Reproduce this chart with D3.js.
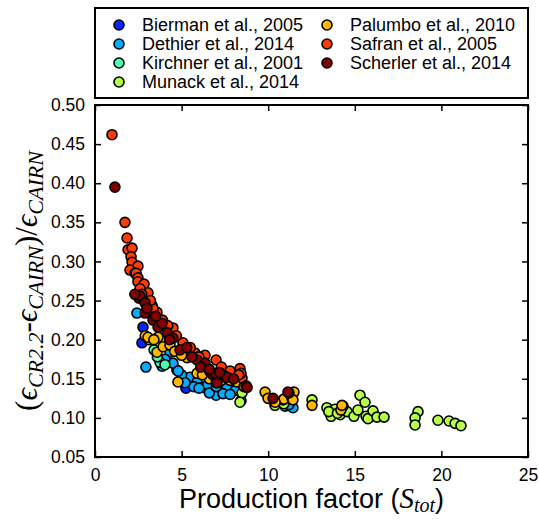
<!DOCTYPE html>
<html lang="en">
<head>
   <meta charset="UTF-8">
   <title>Production factor scatter</title>
   <script src="https://d3js.org/d3.v7.min.js"></script>
   <style>
      body { margin: 0; background: #fff; }
      svg { font-family: "Liberation Sans", Arial, sans-serif; }
      .tick-label { font-size: 17.5px; fill: #000; }
      .legend-label { font-size: 18px; fill: #000; }
      .math { font-family: "Liberation Serif", "DejaVu Serif", serif; font-style: italic; }
   </style>
</head>
<body>
   <div id="chart"></div>
   <script>
      // series names in legend order
      const studies = ['Bierman et al., 2005', 'Dethier et al., 2014', 'Kirchner et al., 2001',
         'Munack et al., 2014', 'Palumbo et al., 2010', 'Safran et al., 2005', 'Scherler et al., 2014'];

      // [production factor, relative difference]
      const bierman = [[2.77, 0.216], [2.71, 0.196], [4.73, 0.161], [5.25, 0.138]];
      const dethier = [[2.42, 0.234], [2.94, 0.165], [3.87, 0.166], [4.33, 0.184], [4.50, 0.170], [4.04, 0.175],
         [5.48, 0.152], [5.89, 0.146], [6.24, 0.139], [6.76, 0.133], [7.22, 0.136], [7.62, 0.139], [6.99, 0.129],
         [7.39, 0.131], [8.43, 0.122], [8.10, 0.135], [10.97, 0.115], [11.43, 0.113], [11.20, 0.117],
         [6.50, 0.142], [5.70, 0.140], [5.00, 0.155], [5.20, 0.145], [6.00, 0.138], [6.60, 0.132],
         [7.00, 0.140], [7.80, 0.130], [4.80, 0.160]];
      const kirchner = [[3.41, 0.187], [3.75, 0.171], [4.04, 0.168], [3.60, 0.178]];
      const munack = [[8.49, 0.132], [8.37, 0.120], [10.39, 0.116], [10.90, 0.118], [12.53, 0.123], [13.39, 0.113],
         [13.63, 0.102], [13.86, 0.111], [14.15, 0.104], [14.55, 0.108], [14.95, 0.102], [15.18, 0.110],
         [15.30, 0.129], [15.59, 0.120], [15.65, 0.102], [15.76, 0.099], [16.05, 0.109], [16.28, 0.101],
         [16.69, 0.101], [18.65, 0.108], [18.48, 0.100], [18.48, 0.091], [19.80, 0.097], [20.44, 0.096],
         [20.79, 0.093], [21.13, 0.090], [13.50, 0.108], [14.00, 0.106]];
      const palumbo = [[2.90, 0.205], [3.12, 0.200], [3.06, 0.203], [3.64, 0.203], [3.58, 0.184], [3.93, 0.191],
         [4.33, 0.193], [5.31, 0.177], [4.79, 0.146], [5.89, 0.157], [8.20, 0.146], [9.82, 0.133], [9.99, 0.125],
         [10.85, 0.123], [10.91, 0.124], [11.37, 0.125], [11.49, 0.133], [11.43, 0.123], [12.53, 0.116],
         [14.32, 0.115], [14.20, 0.110], [14.26, 0.116], [6.60, 0.150], [7.30, 0.148], [3.40, 0.200],
         [4.60, 0.185], [5.00, 0.180], [6.20, 0.155], [7.00, 0.145], [7.80, 0.148], [8.60, 0.140], [10.40, 0.120]];
      const safran = [[0.98, 0.462], [1.73, 0.350], [1.85, 0.330], [1.91, 0.315], [2.14, 0.317], [2.08, 0.306],
         [2.14, 0.299], [2.48, 0.294], [2.02, 0.289], [2.31, 0.285], [2.37, 0.285], [2.48, 0.279], [2.48, 0.274],
         [2.83, 0.271], [3.06, 0.260], [3.29, 0.244], [3.58, 0.235], [3.35, 0.240], [4.50, 0.215], [5.08, 0.196],
         [5.77, 0.183], [6.35, 0.180], [6.99, 0.174], [6.64, 0.159], [8.37, 0.163], [8.49, 0.151], [8.43, 0.157],
         [2.60, 0.265], [2.70, 0.258], [3.20, 0.250], [3.90, 0.225], [4.20, 0.218], [4.70, 0.205], [5.50, 0.190],
         [6.00, 0.178], [7.30, 0.165], [7.80, 0.160], [8.30, 0.155]];
      const scherler = [[1.15, 0.395], [2.54, 0.253], [2.60, 0.256], [2.89, 0.247], [2.89, 0.234], [3.35, 0.225],
         [3.64, 0.216], [3.87, 0.221], [4.16, 0.209], [4.50, 0.202], [4.91, 0.187], [5.89, 0.174], [6.35, 0.170],
         [6.81, 0.155], [6.93, 0.157], [7.39, 0.155], [7.51, 0.152], [7.62, 0.152], [7.04, 0.145], [8.72, 0.141],
         [8.78, 0.139], [10.28, 0.125], [11.20, 0.132], [11.14, 0.133], [3.00, 0.240], [3.50, 0.230],
         [4.30, 0.200], [5.30, 0.190], [5.60, 0.178], [6.10, 0.165], [6.60, 0.162], [7.20, 0.158], [8.00, 0.150],
         [2.30, 0.258]];

      const xTicks = [0, 5, 10, 15, 20, 25];
      const yTicks = [0.05, 0.10, 0.15, 0.20, 0.25, 0.30, 0.35, 0.40, 0.45, 0.50];

      const seriesData = [bierman, dethier, kirchner, munack, palumbo, safran, scherler];

      const width = 539;
      const height = 520;
      const margin = { top: 105, right: 11, bottom: 63, left: 95 };

      const color = d3.scaleOrdinal()
         .domain(studies)
         .range(['#0024ff', '#00aeff', '#46ffb4', '#b6ff47', '#ffb700', '#ff3c00', '#800000']);

      const svg = d3.select('#chart')
         .append('svg')
         .attr('width', width)
         .attr('height', height);

      const x = d3.scaleLinear().domain([0, 25]).range([margin.left, width - margin.right]);
      const y = d3.scaleLinear().domain([0.05, 0.5]).range([height - margin.bottom, margin.top]);

      // points, drawn series by series so the last one sits on top
      const groups = svg.selectAll('.series')
         .data(studies.map((s, i) => ({ name: s, points: seriesData[i] })))
         .enter()
         .append('g')
         .attr('class', 'series');

      groups.selectAll('circle')
         .data(d => d.points.map(p => ({ name: d.name, x: p[0], y: p[1] })))
         .enter()
         .append('circle')
         .attr('cx', d => x(d.x))
         .attr('cy', d => y(d.y))
         .attr('r', 5)
         .attr('fill', d => color(d.name))
         .attr('stroke', '#000')
         .attr('stroke-width', 1.6);

      // axes with inward ticks on all four sides
      const tickLen = 6;
      const axisStyle = g => {
         g.select('.domain').remove();
         g.selectAll('.tick line').attr('stroke', '#000').attr('stroke-width', 1.5);
      };

      svg.append('g')
         .attr('transform', `translate(0, ${y(0.05)})`)
         .call(d3.axisBottom(x).tickValues(xTicks).tickSize(-tickLen).tickPadding(12).tickFormat(d3.format('d')))
         .call(axisStyle)
         .selectAll('text').attr('class', 'tick-label').attr('font-size', null).attr('font-family', null);

      svg.append('g')
         .attr('transform', `translate(0, ${y(0.5)})`)
         .call(d3.axisTop(x).tickValues(xTicks).tickSize(-tickLen).tickFormat(''))
         .call(axisStyle);

      svg.append('g')
         .attr('transform', `translate(${x(0)}, 0)`)
         .call(d3.axisLeft(y).tickValues(yTicks).tickSize(-tickLen).tickPadding(10).tickFormat(d3.format('.2f')))
         .call(axisStyle)
         .selectAll('text').attr('class', 'tick-label').attr('font-size', null).attr('font-family', null);

      svg.append('g')
         .attr('transform', `translate(${x(25)}, 0)`)
         .call(d3.axisRight(y).tickValues(yTicks).tickSize(-tickLen).tickFormat(''))
         .call(axisStyle);

      // frame
      svg.append('rect')
         .attr('x', x(0))
         .attr('y', y(0.5))
         .attr('width', x(25) - x(0))
         .attr('height', y(0.05) - y(0.5))
         .attr('fill', 'none')
         .attr('stroke', '#000')
         .attr('stroke-width', 2);

      // x label
      const xl = svg.append('text')
         .attr('x', (x(0) + x(25)) / 2)
         .attr('y', 508)
         .attr('text-anchor', 'middle')
         .attr('font-size', 27);
      xl.append('tspan').text('Production factor (');
      xl.append('tspan').attr('class', 'math').attr('font-size', 29).text('S');
      xl.append('tspan').attr('class', 'math').attr('font-size', 20).attr('dy', 4).text('tot');
      xl.append('tspan').attr('dy', -4).text(')');

      // y label
      const yl = svg.append('text')
         .attr('transform', `translate(37, ${(y(0.05) + y(0.5)) / 2}) rotate(-90)`)
         .attr('text-anchor', 'middle')
         .attr('font-size', 31)
         .attr('font-family', '"Liberation Serif", serif');
      yl.append('tspan').text('(');
      yl.append('tspan').attr('class', 'math').text('ϵ');
      yl.append('tspan').attr('class', 'math').attr('font-size', 22).attr('dy', 6).text('CR2.2');
      yl.append('tspan').attr('dy', -6).text('-');
      yl.append('tspan').attr('class', 'math').text('ϵ');
      yl.append('tspan').attr('class', 'math').attr('font-size', 22).attr('dy', 6).text('CAIRN');
      yl.append('tspan').attr('dy', -6).text(')/');
      yl.append('tspan').attr('class', 'math').text('ϵ');
      yl.append('tspan').attr('class', 'math').attr('font-size', 22).attr('dy', 6).text('CAIRN');

      // legend
      const legend = svg.append('g');
      legend.append('rect')
         .attr('x', 95)
         .attr('y', 8)
         .attr('width', 433)
         .attr('height', 90)
         .attr('fill', '#fff')
         .attr('stroke', '#000')
         .attr('stroke-width', 2);

      const items = legend.selectAll('.legend-item')
         .data(studies)
         .enter()
         .append('g')
         .attr('class', 'legend-item')
         .attr('transform', (d, i) => `translate(${i < 4 ? 119 : 327}, ${25 + (i % 4) * 19})`);

      items.append('circle')
         .attr('r', 5)
         .attr('fill', d => color(d))
         .attr('stroke', '#000')
         .attr('stroke-width', 1.6);

      items.append('text')
         .attr('class', 'legend-label')
         .attr('x', 23)
         .attr('dy', '0.36em')
         .text(d => d);
   </script>
</body>
</html>
